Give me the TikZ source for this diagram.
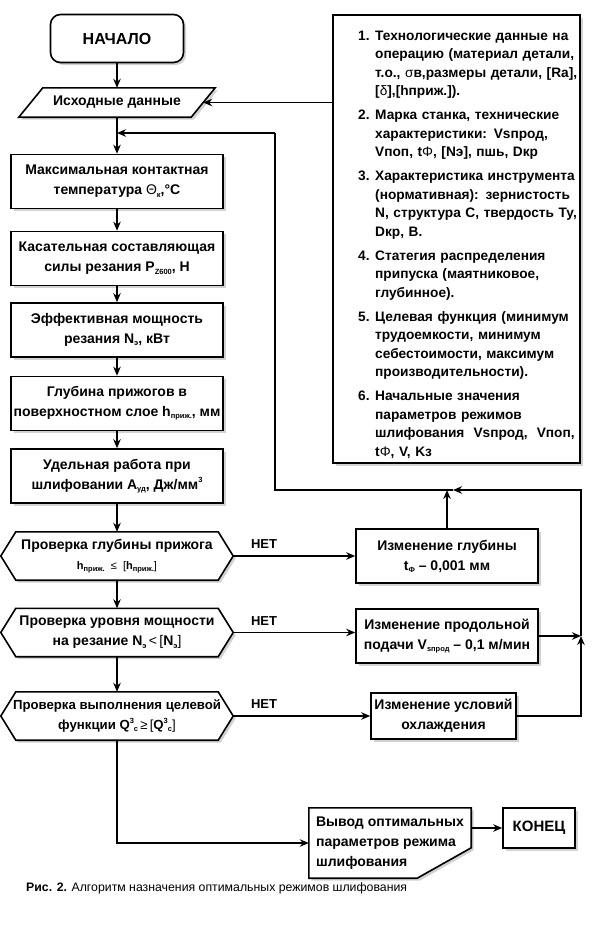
\documentclass[tikz,border=0pt]{standalone}
\usepackage{fontspec}
\setmainfont{Liberation Sans}
\usetikzlibrary{arrows.meta,shadows}
\pgfdeclarelayer{bg}
\pgfsetlayers{bg,main}
\newcommand\lsub[1]{\raisebox{-0.3ex}{\fontsize{7.5}{8}\selectfont #1}}
\newcommand\lsup[1]{\raisebox{0.9ex}{\fontsize{7.5}{8}\selectfont #1}}
\newcommand\thn[1]{{\mdseries #1}}
\newcommand\itm[1]{\par\hangindent=17pt\hangafter=1\noindent\makebox[17pt][l]{#1}}
\tikzset{
  shad/.style={drop shadow={shadow xshift=2.5pt,shadow yshift=-2.5pt,opacity=0.35}},
  frame/.style={draw,line width=1.6pt,fill=white,shad},
  txt/.style={font=\bfseries\fontsize{14}{20}\selectfont,align=center,inner sep=0pt},
  procbox/.style={frame,txt,rectangle,minimum width=212pt,minimum height=54pt},
  sidebox/.style={frame,txt,rectangle,minimum width=182pt,minimum height=54pt},
  ghost/.style={txt,rectangle},
  ln/.style={line width=1.4pt},
  arr/.style={ln,-{Stealth[length=9pt,width=7.5pt]}},
  nolab/.style={font=\bfseries\fontsize{13}{13}\selectfont,inner sep=0pt},
}
\begin{document}
\begin{tikzpicture}[x=1pt,y=-1pt]
\begin{pgfonlayer}{bg}
\fill[white] (0,0) rectangle (600,927);
\end{pgfonlayer}
\useasboundingbox (0,0) rectangle (600,927);

% main column
\node[frame,txt,rectangle,rounded corners=10pt,minimum width=133pt,minimum height=48pt,font=\bfseries\fontsize{16}{20}\selectfont] (start) at (117,38.5) {НАЧАЛО};
\node[ghost,minimum width=196pt,minimum height=29pt] (inp) at (117,102.5) {Исходные данные};
\node[procbox] (b1) at (117,181.5) {Максимальная контактная\\температура \thn{Θ}\lsub{к},°С};
\node[procbox] (b2) at (117,258.5) {Касательная составляющая\\силы резания P\lsub{Z600}, Н};
\node[procbox] (b3) at (117,330) {Эффективная мощность\\резания N\lsub{э}, кВт};
\node[procbox] (b4) at (117,403.5) {Глубина прижогов в\\поверхностном слое h\lsub{приж.}, мм};
\node[procbox] (b5) at (117,476) {Удельная работа при\\шлифовании A\lsub{уд}, Дж/мм\lsup{3}};

\node[ghost,minimum width=232pt,minimum height=48pt] (h1) at (117,556)
  {Проверка глубины прижога\\{\fontsize{11}{12}\selectfont h\lsub{приж.}\ \ \thn{≤}\ \ \thn{[}h\lsub{приж.}\thn{]}}};
\node[ghost,minimum width=232pt,minimum height=48pt] (h2) at (117,632.5)
  {Проверка уровня мощности\\на резание N\lsub{э}\thn{\,<\,[}N\lsub{э}\thn{]}};
\node[ghost,minimum width=232pt,minimum height=48pt,font=\bfseries\fontsize{13.2}{20}\selectfont] (h3) at (117,716)
  {Проверка выполнения целевой\\функции Q\lsup{3}\lsub{с}\thn{\,≥\,[}Q\lsup{3}\lsub{с}\thn{]}};

% right side
\node[frame,rectangle,minimum width=247pt,minimum height=448pt] (info) at (456.5,239) {};
\node[anchor=north west,font=\bfseries\fontsize{13.7}{18.5}\selectfont,text width=240pt,align=left,inner sep=0pt] (infotxt) at (358,16) {%
\setlength\parskip{5.5pt}%
\itm{1.}Технологические данные на\newline операцию (материал детали,\newline т.о., \thn{σ}в,размеры детали, [Ra],\newline {}[\thn{δ}],[hприж.]).
\itm{2.}Марка станка, технические\newline характеристики: Vsпрод,\newline Vпоп, t\thn{Φ}, [Nэ], пшь, Dкр
\itm{3.}Характеристика инструмента\newline (нормативная): зернистость\newline N, структура С, твердость Ту,\newline Dкр, В.
\itm{4.}Статегия распределения\newline припуска (маятниковое,\newline глубинное).
\itm{5.}Целевая функция (минимум\newline трудоемкости, минимум\newline себестоимости, максимум\newline производительности).
\itm{6.}Начальные значения\newline параметров режимов\newline шлифования\ \ Vsпрод,\ \ Vпоп,\newline t\thn{Φ}, V, Kз\par};

\node[sidebox] (r1) at (447,556) {Изменение глубины\\t\lsub{Ф} – 0,001 мм};
\node[sidebox] (r2) at (447,636) {Изменение продольной\\подачи V\lsub{sпрод} – 0,1 м/мин};
\node[frame,txt,rectangle,minimum width=145pt,minimum height=46pt] (r3) at (443.5,716) {Изменение условий\\охлаждения};

\node[ghost,align=left,minimum width=162pt,minimum height=70pt] (out) at (390,843) {Вывод оптимальных\\параметров режима\\шлифования};
\node[frame,txt,rectangle,minimum width=72pt,minimum height=40pt,font=\bfseries\fontsize{15}{20}\selectfont] (end) at (539,828) {КОНЕЦ};

\node[nolab] (n1) at (264,544) {НЕТ};
\node[nolab] (n2) at (264,621) {НЕТ};
\node[nolab] (n3) at (264,704) {НЕТ};

\node[anchor=west,inner sep=0pt,font=\fontsize{12.3}{14}\selectfont] (cap) at (26,888) {\textbf{Рис. 2.} Алгоритм назначения оптимальных режимов шлифования};

% background shapes
\begin{pgfonlayer}{bg}
\draw[frame] ([xshift=24pt]inp.north west) -- (inp.north east) -- ([xshift=-24pt]inp.south east) -- (inp.south west) -- cycle;
\foreach \h in {h1,h2,h3}{
  \draw[frame] (\h.west) -- ([xshift=15pt]\h.north west) -- ([xshift=-15pt]\h.north east) -- (\h.east) -- ([xshift=-15pt]\h.south east) -- ([xshift=15pt]\h.south west) -- cycle;
}
\draw[frame] (out.north west) -- (out.north east) -- ([yshift=-40pt]out.north east) -- ([xshift=-54pt]out.south east) -- (out.south west) -- cycle;
\end{pgfonlayer}

% junctions
\coordinate (jr) at (581,490);
\coordinate (jl) at (275,490);
\coordinate (jt) at (275,133);
\coordinate (jm) at (r2.east -| jr);
\coordinate (ja) at ([xshift=6pt]r1.north |- jr);

% connectors
\draw[arr] (start) -- (inp);
\draw[arr] (inp) -- (b1);
\draw[arr] (b1) -- (b2);
\draw[arr] (b2) -- (b3);
\draw[arr] (b3) -- (b4);
\draw[arr] (b4) -- (b5);
\draw[arr] (b5) -- (h1);
\draw[arr] (h1) -- (h2);
\draw[arr] (h2) -- (h3);
\draw[arr] (h3.south) |- (out.west);
\draw[arr] (out.east |- end.west) -- (end.west);
\draw[arr] (h1.east) -- (h1.east -| r1.west);
\draw[arr] (h2.east) -- (h2.east -| r2.west);
\draw[arr] (h3.east) -- (h3.east -| r3.west);
\draw[arr] (r1.north) -- (r1.north |- jr);
\draw[arr] (r2.east) -- (jm);
\draw[arr] (r3.east) -| (jm);
\draw[arr] (jm) -- (jr) -- (ja);
\draw[ln] (ja) -- (jl) -- (jt);
\draw[arr] (jt) -- (jt -| b1.north);
\draw[arr] (info.west |- inp.east) -- ([xshift=-12pt]inp.east);
\end{tikzpicture}
\end{document}
